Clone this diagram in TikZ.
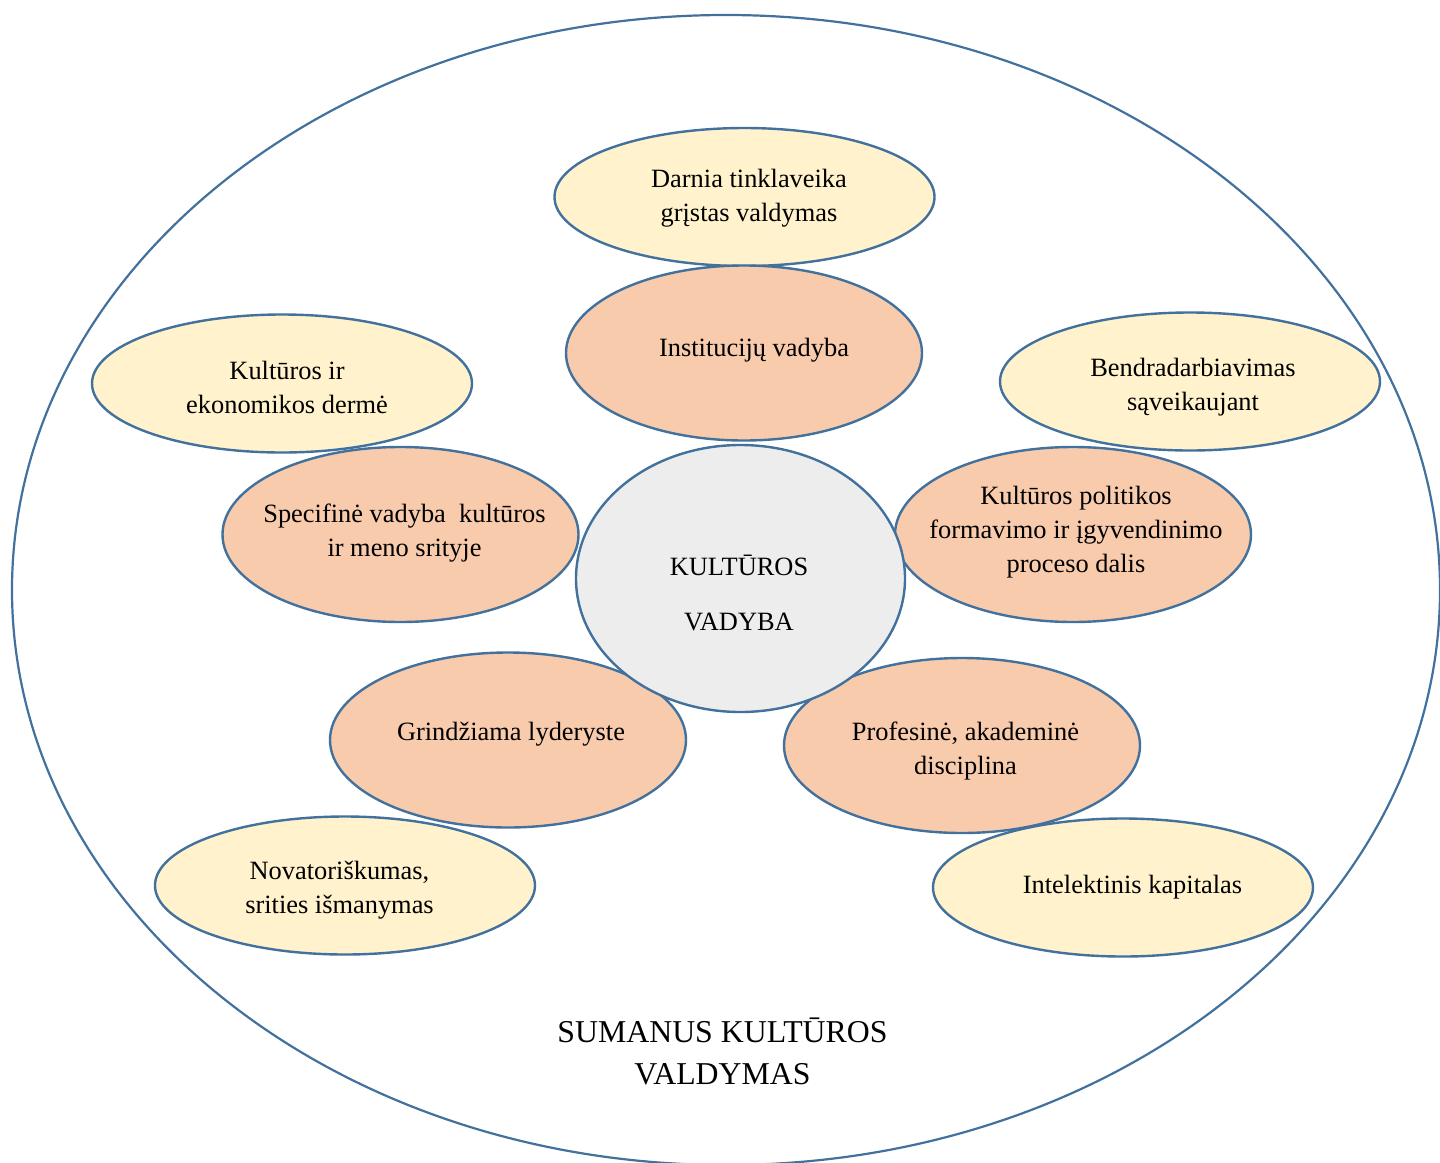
\documentclass[tikz,border=0pt]{standalone}
\usepackage{fontspec}
\setmainfont{Liberation Serif}
\usetikzlibrary{shapes.geometric}

\definecolor{rimblue}{HTML}{41719C}
\definecolor{paleyellow}{HTML}{FFF2CC}
\definecolor{paleorange}{HTML}{F8CBAD}
\definecolor{palegray}{HTML}{EDEDED}

\tikzset{
  blob/.style={ellipse, draw=rimblue, line width=2.4pt, inner sep=0pt},
  outerblob/.style={blob, fill=white, line width=2.2pt},
  yellowblob/.style={blob, fill=paleyellow, minimum width=380pt, minimum height=138pt},
  orangeblob/.style={blob, fill=paleorange, minimum width=356pt, minimum height=175pt},
  coreblob/.style={blob, fill=palegray},
  caption/.style={align=center, inner sep=0pt, text=black,
    font=\fontsize{26.4}{34}\selectfont},
  corecaption/.style={caption, font=\fontsize{26.4}{55}\selectfont},
  titlecaption/.style={caption, font=\fontsize{31.8}{42}\selectfont}
}

\begin{document}
\begin{tikzpicture}[x=1pt, y=-1pt]
  \useasboundingbox (0,0) rectangle (1440,1162);
  \clip (0,0) rectangle (1440,1162);

  % outer frame
  \node[outerblob, minimum width=1428pt, minimum height=1150pt] (frame) at (726,590) {};

  % outer ring of qualities
  \node[yellowblob] (net)   at (744.5,197) {};
  \node[yellowblob] (econ)  at (282,383.5) {};
  \node[yellowblob] (coop)  at (1190,381.5) {};
  \node[yellowblob] (novel) at (345,885.5) {};
  \node[yellowblob] (intel) at (1123,887.5) {};

  % inner ring of aspects
  \node[orangeblob] (inst)  at (744,353) {};
  \node[orangeblob] (spec)  at (400.5,534.5) {};
  \node[orangeblob] (pol)   at (1073,534.5) {};
  \node[orangeblob] (lead)  at (508,740) {};
  \node[orangeblob] (disc)  at (962,745.5) {};

  % core
  \node[coreblob, minimum width=329pt, minimum height=267pt] (core) at (740.5,578.5) {};

  % captions
  \node[caption] (netT)   at (749,198)   {Darnia tinklaveika\\grįstas valdymas};
  \node[caption] (econT)  at (287,387)   {Kultūros ir\\ekonomikos dermė};
  \node[caption] (coopT)  at (1193,387)  {Bendradarbiavimas\\sąveikaujant};
  \node[caption] (novelT) at (339.5,890) {Novatoriškumas,\\srities išmanymas};
  \node[caption] (intelT) at (1132.5,887) {Intelektinis kapitalas};

  \node[caption] (instT)  at (754,350)   {Institucijų vadyba};
  \node[caption] (specT)  at (404.5,533) {Specifinė vadyba~ kultūros\\ir meno srityje};
  \node[caption] (polT)   at (1076,532)  {Kultūros politikos\\formavimo ir įgyvendinimo\\proceso dalis};
  \node[caption] (leadT)  at (511,734)   {Grindžiama lyderyste};
  \node[caption] (discT)  at (965.5,751) {Profesinė, akademinė\\disciplina};

  \node[corecaption] (coreT) at (739,593) {KULTŪROS\\VADYBA};

  \node[titlecaption] (frameT) at (722.5,1051) {SUMANUS KULTŪROS\\VALDYMAS};
\end{tikzpicture}
\end{document}
